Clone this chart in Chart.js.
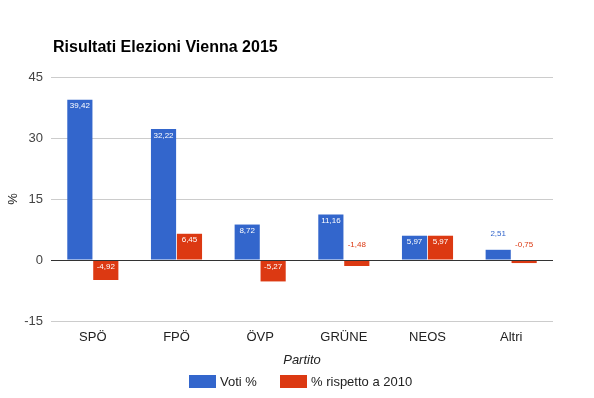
<!DOCTYPE html>
<html><head><meta charset="utf-8">
<script src="https://cdn.jsdelivr.net/npm/chart.js@4/dist/chart.umd.min.js"></script>
<style>html,body{margin:0;padding:0;background:#fff;}canvas{display:block;}</style>
</head><body>
<canvas id="c" width="594" height="398"></canvas>
<script>
const categories = ['SPÖ', 'FPÖ', 'ÖVP', 'GRÜNE', 'NEOS', 'Altri'];
const votiPct = [39.42, 32.22, 8.72, 11.16, 5.97, 2.51];
const diff2010 = [-4.92, 6.45, -5.27, -1.48, 5.97, -0.75];
const seriesNames = ['Voti %', '% rispetto a 2010'];
const seriesColors = ['#3366cc', '#dc3912'];
const yTicks = [-15, 0, 15, 30, 45];
const titleText = 'Risultati Elezioni Vienna 2015';
const xTitle = 'Partito';
const yTitle = '%';

const FONT = "'Liberation Sans', Arial, sans-serif";
Chart.defaults.font.family = FONT;

const fmt = v => v.toFixed(2).replace('.', ',');

const extras = {
  id: 'extras',
  afterDatasetsDraw(chart) {
    const ctx = chart.ctx;
    const y = chart.scales.y;
    const z = Math.round(y.getPixelForValue(0)) + 0.5;
    ctx.save();
    ctx.strokeStyle = '#333';
    ctx.lineWidth = 1;
    ctx.beginPath();
    ctx.moveTo(chart.chartArea.left, z);
    ctx.lineTo(chart.chartArea.right, z);
    ctx.stroke();
    ctx.font = '8px ' + FONT;
    ctx.textAlign = 'center';
    ctx.textBaseline = 'middle';
    chart.data.datasets.forEach((ds, di) => {
      const meta = chart.getDatasetMeta(di);
      meta.data.forEach((el, i) => {
        const top = Math.min(el.y, el.base);
        const h = Math.abs(el.base - el.y);
        const txt = fmt(ds.data[i]);
        if (h >= 15) {
          ctx.fillStyle = '#ffffff';
          ctx.fillText(txt, el.x, top + 6.5);
        } else {
          ctx.fillStyle = seriesColors[di];
          ctx.fillText(txt, el.x, top - 16);
        }
      });
    });
    ctx.restore();
  },
  afterDraw(chart) {
    const ctx = chart.ctx;
    ctx.save();
    ctx.font = 'bold 16px ' + FONT;
    ctx.fillStyle = '#000';
    ctx.textAlign = 'left';
    ctx.textBaseline = 'middle';
    ctx.fillText(titleText, 53, 48);
    ctx.font = '13px ' + FONT;
    const items = [{x: 189, w: 27}, {x: 280, w: 27}];
    items.forEach((it, i) => {
      ctx.fillStyle = seriesColors[i];
      ctx.fillRect(it.x, 375, it.w, 13);
      ctx.fillStyle = '#222';
      ctx.fillText(seriesNames[i], it.x + it.w + 4, 382);
    });
    ctx.restore();
  }
};

new Chart(document.getElementById('c'), {
  type: 'bar',
  data: {
    labels: categories,
    datasets: [
      { label: seriesNames[0], data: votiPct, backgroundColor: seriesColors[0], categoryPercentage: 0.62, barPercentage: 0.97 },
      { label: seriesNames[1], data: diff2010, backgroundColor: seriesColors[1], categoryPercentage: 0.62, barPercentage: 0.97 }
    ]
  },
  options: {
    responsive: false,
    animation: false,
    devicePixelRatio: 1,
    layout: { padding: { top: 77, right: 41, bottom: 0, left: 0 } },
    plugins: {
      legend: { display: false },
      title: { display: false },
      tooltip: { enabled: false }
    },
    scales: {
      x: {
        grid: { display: false, drawTicks: false },
        border: { display: false },
        ticks: { color: '#222', font: { size: 13 }, padding: 9, maxRotation: 0 },
        title: { display: true, text: xTitle, color: '#222', font: { size: 13, style: 'italic' }, padding: { top: 0, bottom: 30 } },
        afterFit(scale) { scale.height = 77; }
      },
      y: {
        min: -15, max: 45,
        grid: { color: '#cccccc', drawTicks: false },
        border: { display: false },
        ticks: { stepSize: 15, color: '#444', font: { size: 13 }, padding: 8 },
        afterBuildTicks(scale) { scale.ticks = yTicks.map(v => ({ value: v })); },
        title: { display: true, text: yTitle, color: '#222', font: { size: 13 }, padding: { top: 6, bottom: 0 } },
        afterFit(scale) { scale.width = 51; }
      }
    }
  },
  plugins: [extras]
});
</script>
</body></html>
